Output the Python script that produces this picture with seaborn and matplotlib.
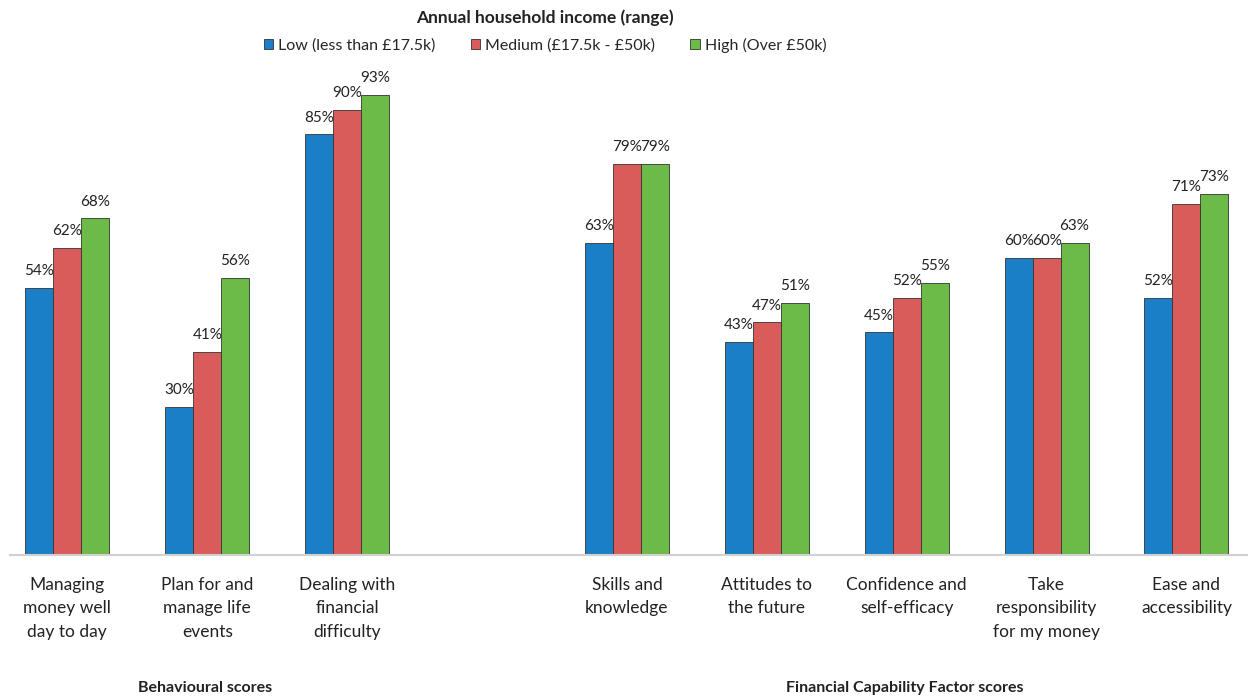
import matplotlib
matplotlib.use("Agg")
import matplotlib.pyplot as plt
import seaborn as sns
import pandas as pd

categories = [
    "Managing\nmoney well\nday to day",
    "Plan for and\nmanage life\nevents",
    "Dealing with\nfinancial\ndifficulty",
    " ",
    "Skills and\nknowledge",
    "Attitudes to\nthe future",
    "Confidence and\nself-efficacy",
    "Take\nresponsibility\nfor my money",
    "Ease and\naccessibility",
]
series = ["Low (less than £17.5k)", "Medium (£17.5k - £50k)", "High (Over £50k)"]
low = [54, 30, 85, None, 63, 43, 45, 60, 52]
medium = [62, 41, 90, None, 79, 47, 52, 60, 71]
high = [68, 56, 93, None, 79, 51, 55, 63, 73]
colors = ["#1a7fc6", "#d95c5b", "#6cbb48"]

rows = []
for cat, l, m, h in zip(categories, low, medium, high):
    for s, v in zip(series, [l, m, h]):
        if v is not None:
            rows.append({"cat": cat, "series": s, "value": v})
df = pd.DataFrame(rows)

sns.set_theme(style="white")
plt.rcParams["font.family"] = ["Lato", "DejaVu Sans"]

fig = plt.figure(figsize=(12.48, 6.99), dpi=100)
ax = fig.add_axes([10 / 1248, 1 - 555 / 699, 1 - 10 / 1248, (555 - 60) / 699])

sns.barplot(data=df, x="cat", y="value", hue="series", order=categories,
            hue_order=series, palette=colors, saturation=1, width=0.6, ax=ax,
            edgecolor="#333333", linewidth=0.6, legend=True, dodge=True)

for cont in ax.containers:
    labels = [f"{int(round(v))}%" for v in cont.datavalues]
    ax.bar_label(cont, labels=labels, padding=7, fontsize=11, color="#222222")

ax.set_xlim(-0.41, 8.44)
ax.set_ylim(0, 100)
ax.set_xlabel("")
ax.set_ylabel("")
ax.set_yticks([])
ax.tick_params(axis="x", length=0, pad=16, labelsize=12.5, colors="#222222")
for t in ax.get_xticklabels():
    t.set_linespacing(1.55)
for sp in ["top", "right", "left"]:
    ax.spines[sp].set_visible(False)
ax.spines["bottom"].set_color("#d0d0d0")
ax.spines["bottom"].set_linewidth(1.5)

handles, labs = ax.get_legend_handles_labels()
ax.legend(handles, labs, loc="center", bbox_to_anchor=(545 / 1248, 1 - 45 / 699),
          bbox_transform=fig.transFigure, ncol=3, frameon=False, fontsize=11.5,
          handlelength=0.6, handleheight=0.6, handletextpad=0.3, columnspacing=2.2)

fig.text(545 / 1248, 1 - 18 / 699, "Annual household income (range)", ha="center",
         va="center", fontsize=12.5, fontweight="bold", color="#222222")
fig.text(205 / 1248, 1 - 688 / 699, "Behavioural scores", ha="center", va="center",
         fontsize=11.5, fontweight="bold", color="#222222")
fig.text(905 / 1248, 1 - 688 / 699, "Financial Capability Factor scores", ha="center",
         va="center", fontsize=11.5, fontweight="bold", color="#222222")

fig.savefig("out.png", dpi=100, facecolor="white")
